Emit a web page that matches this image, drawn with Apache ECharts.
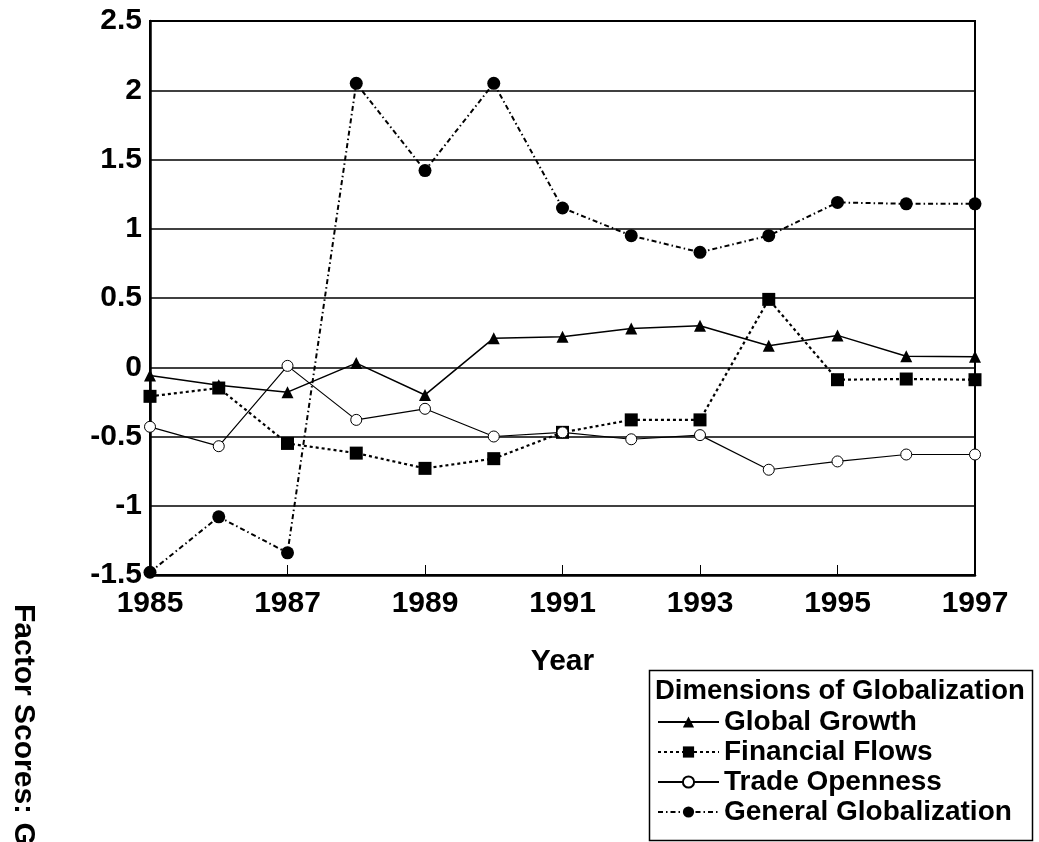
<!DOCTYPE html>
<html>
<head>
<meta charset="utf-8">
<script src="https://cdn.jsdelivr.net/npm/echarts@6/dist/echarts.min.js"></script>
<style>html,body{margin:0;padding:0;background:#fff;}#c{width:1039px;height:842px;}</style>
</head>
<body>
<div id="c"></div>
<script>
const years = ['1985','1986','1987','1988','1989','1990','1991','1992','1993','1994','1995','1996','1997'];
const globalGrowth = [-0.06,-0.13,-0.18,0.03,-0.2,0.21,0.22,0.28,0.3,0.155,0.23,0.08,0.075];
const financialFlows = [-0.21,-0.15,-0.55,-0.62,-0.73,-0.66,-0.47,-0.38,-0.38,0.49,-0.09,-0.085,-0.09];
const tradeOpenness = [-0.43,-0.57,0.01,-0.38,-0.3,-0.5,-0.47,-0.52,-0.49,-0.74,-0.68,-0.63,-0.63];
const generalGlobalization = [-1.48,-1.08,-1.34,2.05,1.42,2.05,1.15,0.95,0.83,0.95,1.19,1.18,1.18];
const yTicks = {min:-1.5, max:2.5, interval:0.5};

const FONT = '"Liberation Sans", Arial, sans-serif';
const chart = echarts.init(document.getElementById('c'));
chart.setOption({
  backgroundColor:'#fff',
  animation:false,
  grid:{left:150,right:64,top:21,bottom:267,show:true,borderColor:'#000',borderWidth:2},
  xAxis:{
    type:'category', data:years, boundaryGap:false,
    axisLine:{onZero:false,lineStyle:{color:'#000',width:2.5}},
    axisTick:{show:true,inside:true,length:10,interval:1,lineStyle:{color:'#000',width:1}},
    axisLabel:{interval:1,color:'#000',fontFamily:FONT,fontWeight:'bold',fontSize:30,margin:14},
    splitLine:{show:false},
    name:'Year', nameLocation:'middle', nameGap:72,
    nameTextStyle:{color:'#000',fontFamily:FONT,fontWeight:'bold',fontSize:30}
  },
  yAxis:{
    type:'value', min:yTicks.min, max:yTicks.max, interval:yTicks.interval,
    axisLine:{show:true,lineStyle:{color:'#000',width:2.5}},
    axisTick:{show:false},
    axisLabel:{color:'#000',fontFamily:FONT,fontWeight:'bold',fontSize:30,margin:8},
    splitLine:{show:true,lineStyle:{color:'#000',width:1.6}}
  },
  legend:{
    orient:'vertical', left:652, top:707, itemWidth:61, itemHeight:14, itemGap:0, padding:[0,5],
    textStyle:{color:'#000',fontFamily:FONT,fontWeight:'bold',fontSize:28,lineHeight:30},
    data:['Global Growth','Financial Flows','Trade Openness','General Globalization']
  },
  graphic:[
    {type:'rect',left:647,top:668,shape:{width:383,height:170},style:{fill:'none',stroke:'#000',lineWidth:1.5},z:-1},
    {type:'text',x:655,y:691,style:{text:'Dimensions of Globalization',fill:'#000',font:'bold 27.5px '+FONT,textAlign:'left',textVerticalAlign:'middle'}},
    {type:'text',x:23,y:604,rotation:-Math.PI/2,style:{text:'Factor Scores: Globalization',fill:'#000',font:'bold 30px '+FONT,textAlign:'left',textVerticalAlign:'middle'}}
  ],
  series:[
    {name:'Global Growth',type:'line',data:globalGrowth,symbol:'triangle',symbolSize:12,
      itemStyle:{color:'#000'},lineStyle:{color:'#000',width:1.5,type:'solid'}},
    {name:'Financial Flows',type:'line',data:financialFlows,symbol:'rect',symbolSize:13,
      itemStyle:{color:'#000'},lineStyle:{color:'#000',width:2.2,type:[3,3]}},
    {name:'Trade Openness',type:'line',data:tradeOpenness,symbol:'circle',symbolSize:11,
      itemStyle:{color:'#fff',borderColor:'#000',borderWidth:1},lineStyle:{color:'#000',width:1.2,type:'solid'}},
    {name:'General Globalization',type:'line',data:generalGlobalization,symbol:'circle',symbolSize:13,
      itemStyle:{color:'#000'},lineStyle:{color:'#000',width:2,type:[5,3,1.5,3]}}
  ]
});
</script>
</body>
</html>
